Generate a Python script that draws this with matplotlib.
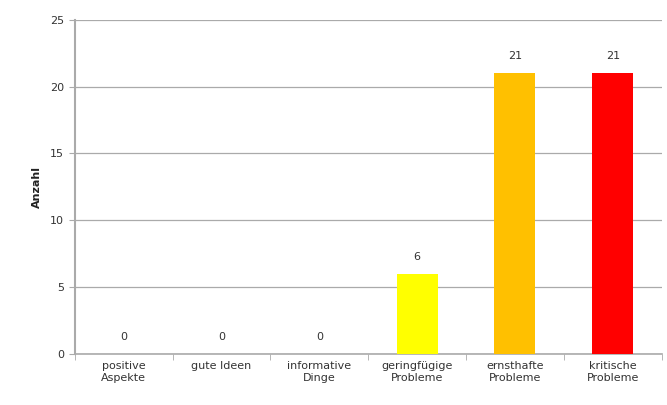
import numpy as np
from matplotlib import pyplot as plt

categories = ["positive\nAspekte", "gute Ideen", "informative\nDinge",
              "geringfügige\nProbleme", "ernsthafte\nProbleme", "kritische\nProbleme"]
values = [0, 0, 0, 6, 21, 21]
colors = ["#FFFF00", "#FFFF00", "#FFFF00", "#FFFF00", "#FFC000", "#FF0000"]

fig = plt.figure(figsize=(6.67, 4.05), dpi=100)
ax = fig.add_axes([0.112, 0.126, 0.88, 0.825])

x = np.arange(len(categories))
ax.bar(x, values, width=0.42, color=colors, zorder=3)

for xi, v in zip(x, values):
    ax.text(xi, v + 0.9, str(v), ha="center", va="bottom", fontsize=8, color="#333333")

ax.set_xlim(-0.5, len(categories) - 0.5)
ax.set_ylim(0, 25)
ax.set_yticks([0, 5, 10, 15, 20, 25])
ax.yaxis.grid(True, color="#aaaaaa", linewidth=0.9, zorder=0)
ax.set_xticks(x)
ax.set_xticklabels(categories, fontsize=8, color="#333333", linespacing=1.2)
ax.set_xticks(np.arange(-0.5, len(categories)), minor=True)
ax.tick_params(axis="x", which="major", length=0, pad=5)
ax.tick_params(axis="x", which="minor", length=4, color="#aaaaaa")
ax.tick_params(axis="y", length=4, color="#aaaaaa", labelsize=8, labelcolor="#333333")
ax.set_ylabel("Anzahl", fontsize=8, fontweight="bold", color="#222222", labelpad=6)

for side in ["top", "right"]:
    ax.spines[side].set_visible(False)
ax.spines["left"].set_color("#aaaaaa")
ax.spines["left"].set_linewidth(1.5)
ax.spines["bottom"].set_color("#aaaaaa")
ax.spines["bottom"].set_linewidth(1.2)

plt.savefig("out.png")
